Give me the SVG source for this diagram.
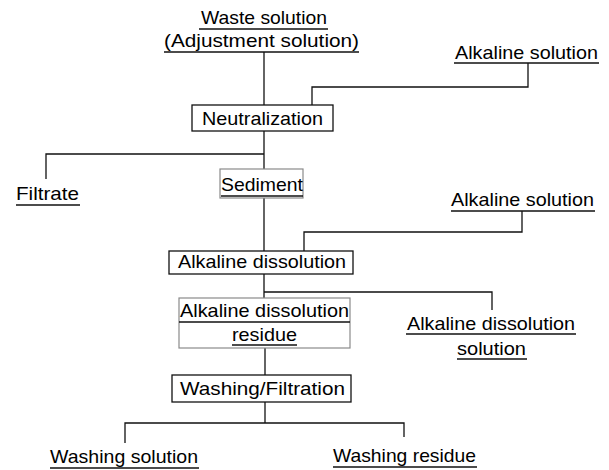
<svg xmlns="http://www.w3.org/2000/svg" width="609" height="470" viewBox="0 0 609 470">
<style>
text{font-family:"Liberation Sans","DejaVu Sans",sans-serif;font-size:19px;fill:#000}
.box{fill:none;stroke:#111;stroke-width:1.3}
.lbox{fill:none;stroke:#8a8a8a;stroke-width:1.2}
.ul{stroke:#111;stroke-width:1.3}
.conn path{fill:none;stroke:#111;stroke-width:1.3}
</style>
<rect width="609" height="470" fill="#fff"/>
<g class="conn" id="connectors">
<path d="M264,52 V105"/>
<path d="M312,105 V87 H528 V63"/>
<path d="M264,131 V169"/>
<path d="M264,154 H46 V179"/>
<path d="M264,198 V251"/>
<path d="M304,251 V232 H522 V211"/>
<path d="M264,274 V298"/>
<path d="M264,292 H492 V310"/>
<path d="M265,348 V375"/>
<path d="M265,402 V423"/>
<path d="M125,443 V423 H404 V437"/>
</g>
<g id="waste">
<text x="201" y="24" textLength="126" lengthAdjust="spacingAndGlyphs">Waste solution</text>
<line class="ul" x1="199" y1="29" x2="328" y2="29"/>
<text x="164" y="47" textLength="195" lengthAdjust="spacingAndGlyphs">(Adjustment solution)</text>
<line class="ul" x1="164" y1="52" x2="359" y2="52"/>
</g>
<g id="alk1">
<text x="455" y="59" textLength="143" lengthAdjust="spacingAndGlyphs">Alkaline solution</text>
<line class="ul" x1="454" y1="63" x2="599" y2="63"/>
</g>
<g id="neutralization">
<rect class="box" x="192" y="105" width="141" height="26"/>
<text x="202" y="125" textLength="121" lengthAdjust="spacingAndGlyphs">Neutralization</text>
</g>
<g id="filtrate">
<text x="16" y="200" textLength="63" lengthAdjust="spacingAndGlyphs">Filtrate</text>
<line class="ul" x1="16" y1="205" x2="80" y2="205"/>
</g>
<g id="sediment">
<rect class="lbox" x="220" y="169" width="83" height="29"/>
<text x="221" y="191" textLength="82" lengthAdjust="spacingAndGlyphs">Sediment</text>
<line class="ul" x1="221" y1="196" x2="303" y2="196"/>
</g>
<g id="alk2">
<text x="451" y="206" textLength="143" lengthAdjust="spacingAndGlyphs">Alkaline solution</text>
<line class="ul" x1="451" y1="211" x2="595" y2="211"/>
</g>
<g id="dissolution">
<rect class="box" x="169" y="251" width="184" height="23"/>
<text x="178" y="268" textLength="168" lengthAdjust="spacingAndGlyphs">Alkaline dissolution</text>
</g>
<g id="residue">
<rect class="lbox" x="179" y="298" width="171" height="50"/>
<text x="180" y="317" textLength="169" lengthAdjust="spacingAndGlyphs">Alkaline dissolution</text>
<line class="ul" x1="179" y1="322" x2="350" y2="322"/>
<text x="232" y="341" textLength="65" lengthAdjust="spacingAndGlyphs">residue</text>
<line class="ul" x1="232" y1="345" x2="297" y2="345"/>
</g>
<g id="dissolution-solution">
<text x="407" y="330" textLength="168" lengthAdjust="spacingAndGlyphs">Alkaline dissolution</text>
<line class="ul" x1="406" y1="334" x2="576" y2="334"/>
<text x="457" y="355" textLength="69" lengthAdjust="spacingAndGlyphs">solution</text>
<line class="ul" x1="457" y1="359" x2="527" y2="359"/>
</g>
<g id="washing">
<rect class="box" x="172" y="375" width="179" height="27"/>
<text x="180" y="395" textLength="165" lengthAdjust="spacingAndGlyphs">Washing/Filtration</text>
</g>
<g id="washing-solution">
<text x="50" y="463" textLength="148" lengthAdjust="spacingAndGlyphs">Washing solution</text>
<line class="ul" x1="50" y1="468" x2="199" y2="468"/>
</g>
<g id="washing-residue">
<text x="333" y="462" textLength="143" lengthAdjust="spacingAndGlyphs">Washing residue</text>
<line class="ul" x1="333" y1="467" x2="477" y2="467"/>
</g>
</svg>
